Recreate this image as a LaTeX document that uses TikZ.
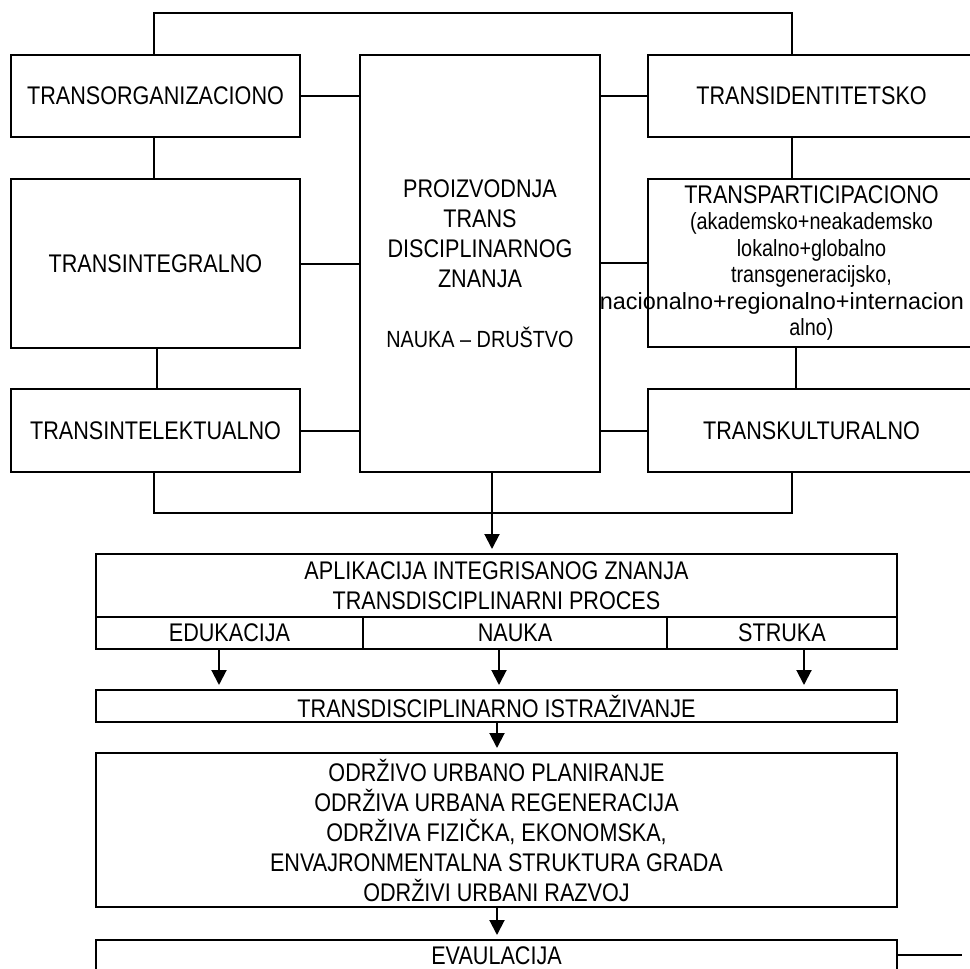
\documentclass[tikz,border=0pt]{standalone}
\usepackage{graphicx}
\usepackage{fontspec}
\setmainfont{Liberation Sans}[FakeStretch=0.847]
\usetikzlibrary{arrows.meta}
\begin{document}
\begin{tikzpicture}[x=1pt,y=-1pt,
  box/.style={draw, line width=2pt, inner sep=0pt, align=center},
  link/.style={line width=2pt},
  flow/.style={line width=2pt, -{Triangle[width=15pt,length=15pt]}, shorten >=4pt},
  big/.style={font=\fontsize{25.5}{30}\selectfont},
]
\useasboundingbox (0,0) rectangle (970,969);
\clip (0,0) rectangle (970,969);

% --- upper block: the six "trans" fields around the central box
\node[box,big,minimum width=289pt,minimum height=82pt]  (org)   at (155.5,96)    {TRANSORGANIZACIONO};
\node[box,big,minimum width=289pt,minimum height=169pt] (integ) at (155.5,263.5)  {TRANSINTEGRALNO};
\node[box,big,minimum width=289pt,minimum height=83pt]  (intel) at (155.5,430.5)  {TRANSINTELEKTUALNO};

\node[box,big,minimum width=240pt,minimum height=417pt] (prod) at (480,263.5)
  {PROIZVODNJA\\TRANS\\DISCIPLINARNOG\\ZNANJA\\[30pt]{\fontsize{23.4}{30}\selectfont NAUKA – DRUŠTVO}};

\node[box,big,minimum width=327pt,minimum height=82pt]  (ident) at (811.5,96)    {TRANSIDENTITETSKO};
\node[box,minimum width=327pt,minimum height=168pt,font=\fontsize{23.4}{26.5}\selectfont] (part) at (811.5,263)
  {{\fontsize{25.5}{27}\selectfont TRANSPARTICIPACIONO}\\(akademsko+neakademsko\\lokalno+globalno\\transgeneracijsko,\\\hspace*{-59pt}\scalebox{1.18}[1]{nacionalno+regionalno+internacion}\\alno)};
\node[box,big,minimum width=327pt,minimum height=83pt]  (kult)  at (811.5,430.5)  {TRANSKULTURALNO};

% frame lines
\coordinate (tl) at (154,13);
\coordinate (tr) at (792,13);
\coordinate (bl) at (154,513);
\coordinate (br) at (792,513);
\coordinate (lv) at (157,0);
\coordinate (rv) at (796,0);

\draw[link] (org.north -| tl) -- (tl) -- (tr) -- (ident.north -| tr);
\draw[link] (intel.south -| bl) -- (bl) -- (br) -- (kult.south -| br);
\draw[link] (org.south -| tl) -- (integ.north -| tl);
\draw[link] (integ.south -| lv) -- (intel.north -| lv);
\draw[link] (ident.south -| tr) -- (part.north -| tr);
\draw[link] (part.south -| rv) -- (kult.north -| rv);

\draw[link] (org.east) -- (org.east -| prod.west);
\draw[link] (integ.east) -- (integ.east -| prod.west);
\draw[link] (intel.east) -- (intel.east -| prod.west);
\draw[link] (ident.west) -- (ident.west -| prod.east);
\draw[link] (part.west) -- (part.west -| prod.east);
\draw[link] (kult.west) -- (kult.west -| prod.east);

% --- lower block: application chain
\node[box,big,minimum width=801pt,minimum height=63pt] (apl) at (496.5,585.5)
  {APLIKACIJA INTEGRISANOG ZNANJA\\TRANSDISCIPLINARNI PROCES};
\node[box,big,minimum width=267pt,minimum height=32pt] (edu) at (229.5,633) {EDUKACIJA};
\node[box,big,minimum width=304pt,minimum height=32pt] (nau) at (515,633)   {NAUKA};
\node[box,big,minimum width=230pt,minimum height=32pt] (str) at (782,633)   {STRUKA};

\node[box,big,minimum width=801pt,minimum height=32pt] (istr) at (496.5,706)
  {TRANSDISCIPLINARNO ISTRAŽIVANJE};
\node[box,big,minimum width=801pt,minimum height=154pt] (odr) at (496.5,830)
  {ODRŽIVO URBANO PLANIRANJE\\ODRŽIVA URBANA REGENERACIJA\\ODRŽIVA FIZIČKA, EKONOMSKA,\\ENVAJRONMENTALNA STRUKTURA GRADA\\ODRŽIVI URBANI RAZVOJ};
\node[box,minimum width=801pt,minimum height=80pt] (eva) at (496.5,980) {};
\node[big] (evat) at (496.5,956) {EVAULACIJA};

\coordinate (fb) at (962,955);
\draw[link] (fb -| eva.east) -- (fb);

% arrows
\coordinate (a0) at (492,0);
\coordinate (a1) at (219,0);
\coordinate (a2) at (499,0);
\coordinate (a3) at (804,0);
\coordinate (a4) at (497,0);
\draw[flow] (a0 |- prod.south) -- (a0 |- apl.north);
\draw[flow] (a1 |- edu.south) -- (a1 |- istr.north);
\draw[flow] (a2 |- nau.south) -- (a2 |- istr.north);
\draw[flow] (a3 |- str.south) -- (a3 |- istr.north);
\draw[flow] (a4 |- istr.south) -- (a4 |- odr.north);
\draw[flow] (a4 |- odr.south) -- (a4 |- eva.north);
\end{tikzpicture}
\end{document}
